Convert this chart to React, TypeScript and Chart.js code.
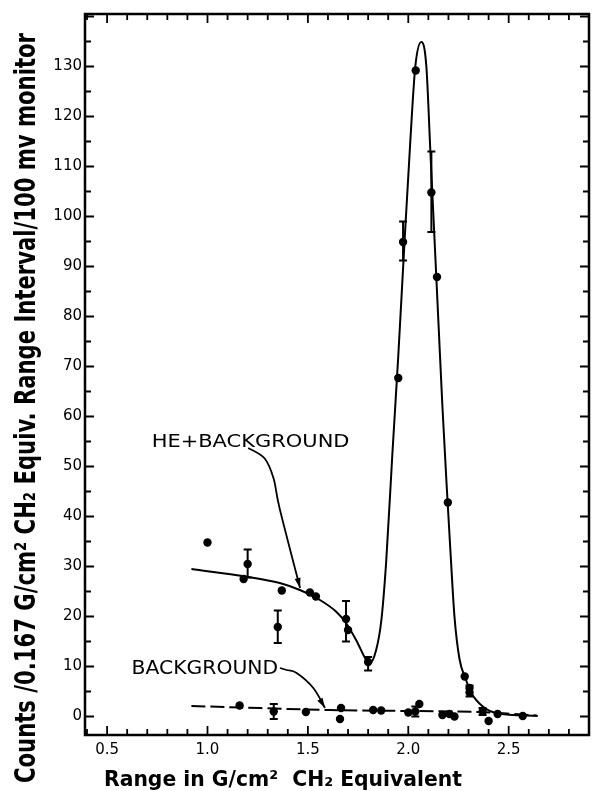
import React, { useEffect, useRef } from 'react';
import { Chart, registerables } from 'chart.js';

Chart.register(...registerables);

// ---- axes ----
const xMin = 0.39;
const xMax = 2.9;
const yMin = -3.7;
const yMax = 140.5;
const xTickValues = [0.5, 1.0, 1.5, 2.0, 2.5];
const xTickLabels = ['0.5', '1.0', '1.5', '2.0', '2.5'];
const yTickValues = [0, 10, 20, 30, 40, 50, 60, 70, 80, 90, 100, 110, 120, 130];
const yTickLabels = ['0', '10', '20', '30', '40', '50', '60', '70', '80', '90', '100', '110', '120', '130'];

// ---- measured points (HE + background, and background) ----
const pointX = [
  1.0, 1.2, 1.18, 1.37, 1.35, 1.51, 1.54, 1.69, 1.70, 1.80,
  1.95, 1.974, 2.037, 2.115, 2.143, 2.197, 2.281, 2.305, 2.305,
  1.16, 1.33, 1.49, 1.665, 1.66, 1.825, 1.865, 2.0, 2.035, 2.055,
  2.17, 2.205, 2.23, 2.37, 2.40, 2.445, 2.57,
];
const pointY = [
  34.8, 30.5, 27.5, 25.2, 17.9, 24.8, 24.0, 19.5, 17.3, 10.9,
  67.7, 94.9, 129.2, 104.8, 87.9, 42.8, 8.0, 5.7, 4.8,
  2.2, 1.0, 0.9, 1.7, -0.5, 1.3, 1.2, 0.8, 1.0, 2.5,
  0.3, 0.5, 0.0, 1.0, -0.9, 0.5, 0.1,
];

// ---- error bars ----
const errX = [1.2, 1.35, 1.69, 1.80, 1.974, 2.115, 2.305, 1.33, 2.035, 2.37];
const errLo = [27.8, 14.7, 15.0, 9.2, 91.2, 96.9, 4.0, -0.5, 0.0, 0.3];
const errHi = [33.4, 21.2, 23.1, 11.9, 99.0, 113.0, 6.2, 2.5, 2.0, 1.7];

// ---- fitted curve (HE + background) ----
const curveX = [
  0.92, 1.19, 1.36, 1.46, 1.56, 1.64, 1.69, 1.74, 1.79, 1.805,
  1.84, 1.866, 1.89, 1.92, 1.95, 1.98, 2.01, 2.035, 2.065, 2.09,
  2.11, 2.13, 2.15, 2.17, 2.19, 2.21, 2.23, 2.255, 2.285, 2.314,
  2.371, 2.438, 2.645,
];
const curveY = [
  29.5, 28.0, 26.7, 25.3, 23.3, 21.0, 18.7, 15.3, 11.3, 10.5,
  13.3, 19.3, 31.0, 52.0, 72.0, 94.0, 115.0, 130.0, 134.9, 130.0,
  113.0, 96.0, 79.0, 62.0, 47.0, 33.0, 20.0, 11.5, 7.6, 4.7,
  2.0, 0.7, 0.1,
];

// ---- background (dashed) ----
const bgLineX = [0.92, 1.61, 2.34, 2.64];
const bgLineY = [2.1, 1.3, 0.9, 0.2];

// ---- annotations ----
const heLabel = 'HE+BACKGROUND';
const heLabelX = 0.722;
const heLabelY = 54.0;
const heLabelEndX = 1.707;
const heArrowX = [1.203, 1.285, 1.33, 1.36, 1.461];
const heArrowY = [53.7, 51.6, 47.5, 41.5, 25.7];

const bgLabel = 'BACKGROUND';
const bgLabelX = 0.622;
const bgLabelY = 8.5;
const bgLabelEndX = 1.352;
const bgArrowX = [1.361, 1.394, 1.444, 1.527, 1.585];
const bgArrowY = [9.7, 9.3, 8.7, 5.7, 1.7];

const xTitle = 'Range in G/cm\u00B2  CH\u2082 Equivalent';
const yTitle = 'Counts /0.167 G/cm\u00B2 CH\u2082 Equiv. Range Interval/100 mv monitor';

function smoothPath(ctx: CanvasRenderingContext2D, pts: { x: number; y: number }[]) {
  ctx.moveTo(pts[0].x, pts[0].y);
  for (let i = 0; i < pts.length - 1; i++) {
    const p0 = pts[i - 1] || pts[i];
    const p1 = pts[i];
    const p2 = pts[i + 1];
    const p3 = pts[i + 2] || p2;
    const c1x = p1.x + (p2.x - p0.x) / 6;
    const c1y = p1.y + (p2.y - p0.y) / 6;
    const c2x = p2.x - (p3.x - p1.x) / 6;
    const c2y = p2.y - (p3.y - p1.y) / 6;
    ctx.bezierCurveTo(c1x, c1y, c2x, c2y, p2.x, p2.y);
  }
}

function arrowHead(ctx: CanvasRenderingContext2D, from: { x: number; y: number }, tip: { x: number; y: number }) {
  const a = Math.atan2(tip.y - from.y, tip.x - from.x);
  const len = 10;
  const hw = 3;
  const bx = tip.x - len * Math.cos(a);
  const by = tip.y - len * Math.sin(a);
  ctx.beginPath();
  ctx.moveTo(tip.x, tip.y);
  ctx.lineTo(bx + hw * Math.sin(a), by - hw * Math.cos(a));
  ctx.lineTo(bx - hw * Math.sin(a), by + hw * Math.cos(a));
  ctx.closePath();
  ctx.fill();
}

function fitText(
  ctx: CanvasRenderingContext2D,
  text: string,
  x: number,
  y: number,
  width: number,
  font: string,
  rotate: boolean
) {
  ctx.save();
  ctx.font = font;
  const w = ctx.measureText(text).width;
  ctx.translate(x, y);
  if (rotate) ctx.rotate(-Math.PI / 2);
  ctx.scale(width / w, 1);
  ctx.textAlign = 'left';
  ctx.textBaseline = 'alphabetic';
  ctx.fillStyle = '#000';
  ctx.fillText(text, 0, 0);
  ctx.restore();
}

const decorPlugin = {
  id: 'decor',
  afterDatasetsDraw(chart: any) {
    const ctx: CanvasRenderingContext2D = chart.ctx;
    const xs = chart.scales.x;
    const ys = chart.scales.y;
    const ca = chart.chartArea;
    const px = (v: number) => xs.getPixelForValue(v);
    const py = (v: number) => ys.getPixelForValue(v);
    ctx.save();
    ctx.strokeStyle = '#000';
    ctx.fillStyle = '#000';

    // error bars
    ctx.lineWidth = 2;
    for (let i = 0; i < errX.length; i++) {
      const x = px(errX[i]);
      const y1 = py(errLo[i]);
      const y2 = py(errHi[i]);
      ctx.beginPath();
      ctx.moveTo(x, y1);
      ctx.lineTo(x, y2);
      ctx.moveTo(x - 4, y1);
      ctx.lineTo(x + 4, y1);
      ctx.moveTo(x - 4, y2);
      ctx.lineTo(x + 4, y2);
      ctx.stroke();
    }

    // frame
    ctx.lineWidth = 2.5;
    ctx.strokeRect(ca.left, ca.top, ca.right - ca.left, ca.bottom - ca.top);

    // inner ticks
    ctx.lineWidth = 1.8;
    ctx.beginPath();
    for (let k = 4; k <= 28; k++) {
      const v = k / 10;
      const x = px(v);
      if (x <= ca.left + 1 || x >= ca.right - 1) continue;
      const len = k % 5 === 0 ? 9 : 6;
      ctx.moveTo(x, ca.bottom);
      ctx.lineTo(x, ca.bottom - len);
      ctx.moveTo(x, ca.top);
      ctx.lineTo(x, ca.top + len);
    }
    for (let k = 0; k <= 28; k++) {
      const v = k * 5;
      const y = py(v);
      if (y <= ca.top + 1 || y >= ca.bottom - 1) continue;
      const len = k % 2 === 0 ? 9 : 6;
      ctx.moveTo(ca.left, y);
      ctx.lineTo(ca.left + len, y);
      ctx.moveTo(ca.right, y);
      ctx.lineTo(ca.right - len, y);
    }
    ctx.stroke();

    // arrows
    ctx.lineWidth = 1.8;
    const hePts = heArrowX.map((v, i) => ({ x: px(v), y: py(heArrowY[i]) }));
    ctx.beginPath();
    smoothPath(ctx, hePts);
    ctx.stroke();
    arrowHead(ctx, hePts[hePts.length - 2], hePts[hePts.length - 1]);
    const bgPts = bgArrowX.map((v, i) => ({ x: px(v), y: py(bgArrowY[i]) }));
    ctx.beginPath();
    smoothPath(ctx, bgPts);
    ctx.stroke();
    arrowHead(ctx, bgPts[bgPts.length - 2], bgPts[bgPts.length - 1]);

    // labels
    fitText(ctx, heLabel, px(heLabelX), py(heLabelY), px(heLabelEndX) - px(heLabelX), '18px "DejaVu Sans"', false);
    fitText(ctx, bgLabel, px(bgLabelX), py(bgLabelY), px(bgLabelEndX) - px(bgLabelX), '19px "DejaVu Sans"', false);

    // axis titles
    fitText(ctx, xTitle, 104, 786, 358, 'bold 22px "DejaVu Sans"', false);
    fitText(ctx, yTitle, 35, 783, 750, 'bold 28px "DejaVu Sans"', true);

    ctx.restore();
  },
};

export default function App() {
  const ref = useRef<HTMLCanvasElement | null>(null);
  useEffect(() => {
    if (!ref.current) return;
    const chart = new Chart(ref.current, {
      type: 'scatter',
      data: {
        datasets: [
          {
            label: 'HE + background fit',
            data: curveX.map((x, i) => ({ x, y: curveY[i] })),
            showLine: true,
            borderColor: '#000',
            borderWidth: 2,
            pointRadius: 0,
            cubicInterpolationMode: 'monotone',
          },
          {
            label: 'Background',
            data: bgLineX.map((x, i) => ({ x, y: bgLineY[i] })),
            showLine: true,
            borderColor: '#000',
            borderWidth: 2,
            borderDash: [14, 5],
            pointRadius: 0,
            tension: 0.3,
          },
          {
            label: 'Data',
            data: pointX.map((x, i) => ({ x, y: pointY[i] })),
            showLine: false,
            pointRadius: 4.2,
            pointBackgroundColor: '#000',
            pointBorderWidth: 0,
            backgroundColor: '#000',
          },
        ],
      },
      options: {
        animation: false,
        responsive: false,
        devicePixelRatio: 1,
        layout: { padding: { top: 14, right: 5, left: 0, bottom: 0 } },
        plugins: { legend: { display: false }, tooltip: { enabled: false }, title: { display: false } },
        scales: {
          x: {
            type: 'linear',
            min: xMin,
            max: xMax,
            afterBuildTicks: (s: any) => {
              s.ticks = xTickValues.map((v) => ({ value: v }));
            },
            afterFit: (s: any) => {
              s.height = 56;
            },
            ticks: {
              callback: (v: any) => {
                const i = xTickValues.findIndex((t) => Math.abs(t - Number(v)) < 1e-6);
                return i >= 0 ? xTickLabels[i] : '';
              },
              color: '#000',
              font: { family: 'DejaVu Sans', size: 15 },
              padding: 6,
              maxRotation: 0,
              autoSkip: false,
            },
            grid: { display: false, drawTicks: false },
            border: { display: false },
          },
          y: {
            type: 'linear',
            min: yMin,
            max: yMax,
            afterBuildTicks: (s: any) => {
              s.ticks = yTickValues.map((v) => ({ value: v }));
            },
            afterFit: (s: any) => {
              s.width = 85;
            },
            ticks: {
              callback: (v: any) => {
                const i = yTickValues.findIndex((t) => Math.abs(t - Number(v)) < 1e-6);
                return i >= 0 ? yTickLabels[i] : '';
              },
              color: '#000',
              font: { family: 'DejaVu Sans', size: 15 },
              padding: 3,
              autoSkip: false,
            },
            grid: { display: false, drawTicks: false },
            border: { display: false },
          },
        },
      },
      plugins: [decorPlugin],
    } as any);
    return () => chart.destroy();
  }, []);
  return (
    <div style={{ position: 'absolute', left: 0, top: 0, width: 594, height: 791, background: '#fff' }}>
      <canvas ref={ref} width={594} height={791} style={{ display: 'block' }} />
    </div>
  );
}
